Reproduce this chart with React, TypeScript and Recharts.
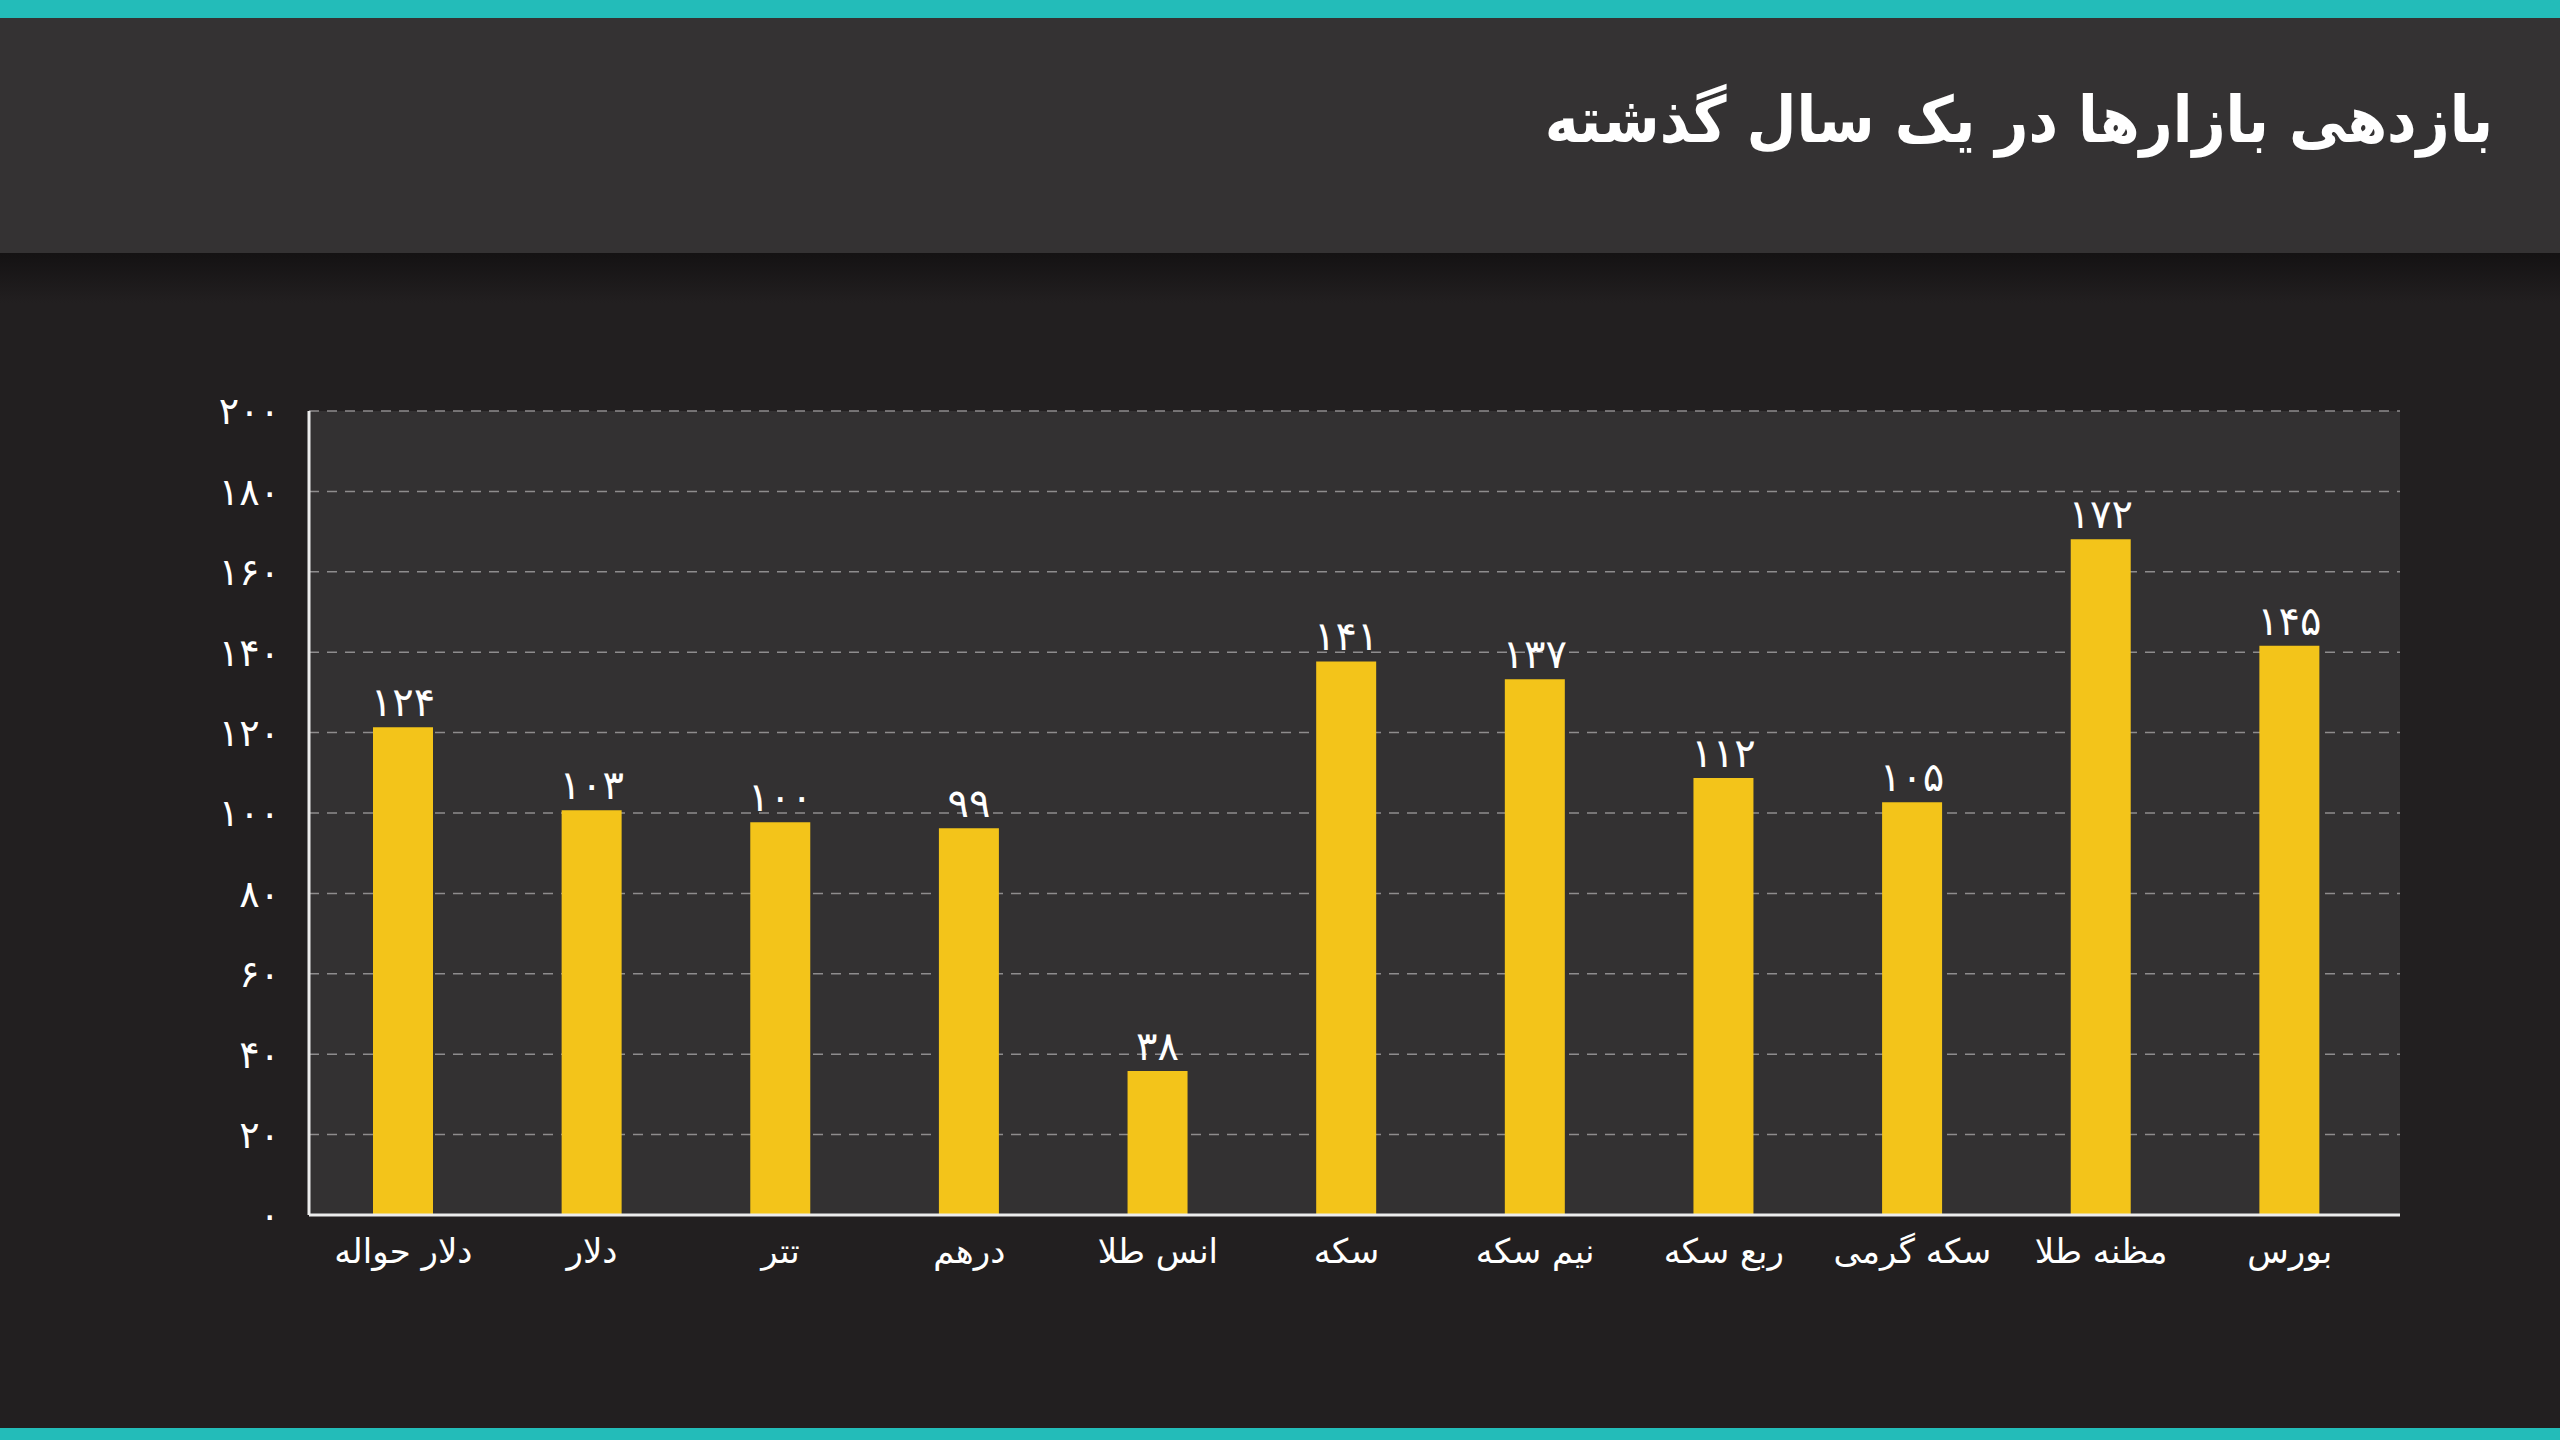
import { Bar, BarChart, CartesianGrid, LabelList, XAxis, YAxis } from 'recharts';

const title = 'بازدهی بازارها در یک سال گذشته';

const markets = [
  'دلار حواله',
  'دلار',
  'تتر',
  'درهم',
  'انس طلا',
  'سکه',
  'نیم سکه',
  'ربع سکه',
  'سکه گرمی',
  'مظنه طلا',
  'بورس',
];

// returns printed above each bar
const returns = [124, 103, 100, 99, 38, 141, 137, 112, 105, 172, 145];

// bar tops as read against the y axis (the source draws them a little under the printed value)
const barTops = [121.3, 100.7, 97.7, 96.2, 35.8, 137.7, 133.3, 108.7, 102.7, 168.1, 141.6];

const yTicks = [0, 20, 40, 60, 80, 100, 120, 140, 160, 180, 200];

const FA_DIGITS = '۰۱۲۳۴۵۶۷۸۹';
const toFa = (n: number | string) => String(n).replace(/\d/g, (d) => FA_DIGITS[Number(d)]);

const FONT = '"DejaVu Sans", "Noto Sans", sans-serif';

export default function App() {
  const data = markets.map((name, i) => ({
    name,
    value: barTops[i],
    label: toFa(returns[i]),
  }));

  return (
    <div
      style={{
        position: 'absolute',
        left: 0,
        top: 0,
        width: 2560,
        height: 1440,
        background: '#221f20',
        overflow: 'hidden',
        fontFamily: FONT,
      }}
    >
      <div style={{ position: 'absolute', left: 0, top: 0, width: 2560, height: 18, background: '#23bcb9' }} />
      <div style={{ position: 'absolute', left: 0, top: 18, width: 2560, height: 235, background: '#343233' }} />
      <div
        style={{
          position: 'absolute',
          left: 0,
          top: 253,
          width: 2560,
          height: 50,
          background: 'linear-gradient(#141213, #221f20)',
        }}
      />
      <div
        dir="rtl"
        style={{
          position: 'absolute',
          right: 67,
          top: 78,
          color: '#ffffff',
          fontSize: 64,
          fontWeight: 700,
          lineHeight: '84px',
          fontFamily: '"DejaVu Sans Condensed", "DejaVu Sans", sans-serif',
          fontStretch: 'condensed',
          whiteSpace: 'nowrap',
        }}
      >
        {title}
      </div>

      <div style={{ position: 'absolute', left: 0, top: 300 }}>
        <BarChart
          width={2560}
          height={1100}
          data={data}
          margin={{ top: 111, right: 160, bottom: 125, left: 189 }}
          barSize={60}
        >
          <CartesianGrid
            vertical={false}
            fill="#333132"
            stroke="#8e8c8d"
            strokeWidth={1.5}
            strokeDasharray="10 8"
          />
          <XAxis
            dataKey="name"
            interval={0}
            height={60}
            padding={{ left: 0, right: 16 }}
            axisLine={{ stroke: '#ececec', strokeWidth: 3 }}
            tickLine={false}
            tickSize={0}
            tickMargin={24}
            tick={{ fill: '#ffffff', fontSize: 34, fontFamily: FONT }}
          />
          <YAxis
            width={120}
            domain={[0, 200]}
            ticks={yTicks}
            interval={0}
            axisLine={{ stroke: '#ececec', strokeWidth: 3 }}
            tickLine={false}
            tickSize={0}
            tickMargin={29}
            tickFormatter={(v: number) => toFa(v)}
            tick={{ fill: '#ffffff', fontSize: 38, fontFamily: FONT }}
          />
          <Bar dataKey="value" fill="#f3c41a" isAnimationActive={false}>
            <LabelList
              dataKey="label"
              position="top"
              offset={11}
              fill="#ffffff"
              fontSize={40}
              fontFamily={FONT}
            />
          </Bar>
        </BarChart>
      </div>

      <div style={{ position: 'absolute', left: 0, top: 1428, width: 2560, height: 12, background: '#23bcb9' }} />
    </div>
  );
}
